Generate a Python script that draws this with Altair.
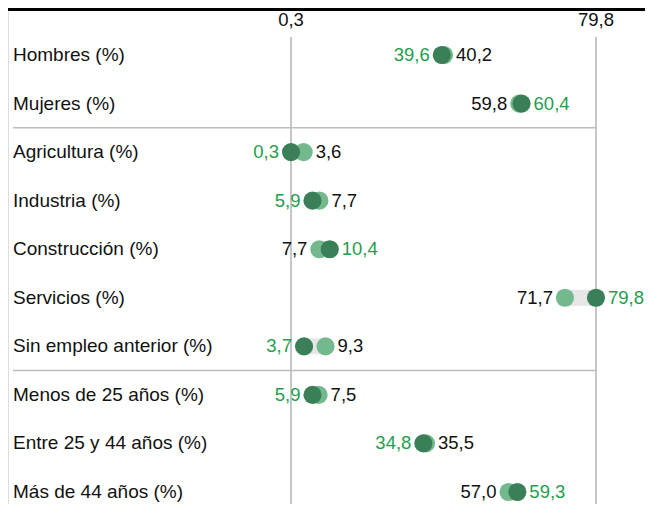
import altair as alt
import pandas as pd

categories = ["Hombres (%)", "Mujeres (%)", "Agricultura (%)", "Industria (%)",
              "Construcción (%)", "Servicios (%)", "Sin empleo anterior (%)",
              "Menos de 25 años (%)", "Entre 25 y 44 años (%)", "Más de 44 años (%)"]
dark_values = [39.6, 60.4, 0.3, 5.9, 10.4, 79.8, 3.7, 5.9, 34.8, 59.3]
light_values = [40.2, 59.8, 3.6, 7.7, 7.7, 71.7, 9.3, 7.5, 35.5, 57.0]
group_sizes = [2, 5, 3]
ref_ticks = [0.3, 79.8]
ref_labels = ["0,3", "79,8"]

DARK = "#3a7f57"
LIGHT = "#74b98e"
GREEN_TXT = "#1f9e4e"
FONT = "Liberation Sans"
FS = 18.5
FS_CAT = 19

W = 637
H = 496


def fmt(v):
    return f"{v:.1f}".replace(".", ",")


n = len(categories)
rows = pd.DataFrame({"cat": categories, "idx": list(range(n)),
                     "dark": dark_values, "light": light_values})
rows["lo"] = rows[["dark", "light"]].min(axis=1)
rows["hi"] = rows[["dark", "light"]].max(axis=1)

recs = []
for i in range(n):
    d, l = dark_values[i], light_values[i]
    recs.append({"idx": i, "series": "dark", "value": d, "label": fmt(d),
                 "side": "left" if d < l else "right", "tcolor": GREEN_TXT})
    recs.append({"idx": i, "series": "light", "value": l, "label": fmt(l),
                 "side": "left" if l < d else "right", "tcolor": "#111111"})
pts = pd.DataFrame(recs)

breaks = []
acc = 0
for g in group_sizes[:-1]:
    acc += g
    breaks.append(acc - 0.5)
seps = pd.DataFrame({"b": breaks})
ticks = pd.DataFrame({"v": ref_ticks, "t": ref_labels})

xs = alt.Scale(domain=[0.3, 79.8], range=[283, 588], zero=False, nice=False)
ys = alt.Scale(domain=[0, n - 1], range=[47, 484], zero=False, nice=False)

X = lambda f: alt.X(f, scale=xs, axis=None)
Y = lambda f: alt.Y(f, scale=ys, axis=None)

vrules = alt.Chart(ticks).mark_rule(color="#b3b3b3", strokeWidth=1.5).encode(
    x=X("v:Q"), y=alt.value(29), y2=alt.value(H))
vlabels = alt.Chart(ticks).mark_text(fontSize=FS, font=FONT, color="#111111",
                                     baseline="middle").encode(
    x=X("v:Q"), y=alt.value(12), text="t:N")
seprules = alt.Chart(seps).mark_rule(color="#bdbdbd", strokeWidth=1.5).encode(
    y=Y("b:Q"), x=alt.value(5), x2=alt.value(588))
topline = alt.Chart(ticks).mark_rule(color="#000000", strokeWidth=3).encode(
    x=alt.value(0), x2=alt.value(W), y=alt.value(1.5))

bars = alt.Chart(rows).mark_rule(color="#e6e6e6", strokeWidth=16).encode(
    x=X("lo:Q"), x2="hi:Q", y=Y("idx:Q"))
light = alt.Chart(pts).transform_filter(alt.datum.series == "light").mark_circle(
    size=330, opacity=1, color=LIGHT).encode(x=X("value:Q"), y=Y("idx:Q"))
dark = alt.Chart(pts).transform_filter(alt.datum.series == "dark").mark_circle(
    size=330, opacity=1, color=DARK).encode(x=X("value:Q"), y=Y("idx:Q"))

left_lab = alt.Chart(pts).transform_filter(alt.datum.side == "left").mark_text(
    align="right", dx=-12, fontSize=FS, font=FONT, baseline="middle").encode(
    x=X("value:Q"), y=Y("idx:Q"), text="label:N",
    color=alt.Color("tcolor:N", scale=None))
right_lab = alt.Chart(pts).transform_filter(alt.datum.side == "right").mark_text(
    align="left", dx=12, fontSize=FS, font=FONT, baseline="middle").encode(
    x=X("value:Q"), y=Y("idx:Q"), text="label:N",
    color=alt.Color("tcolor:N", scale=None))

cat_lab = alt.Chart(rows).mark_text(align="left", fontSize=FS_CAT, font=FONT,
                                    color="#111111", baseline="middle").encode(
    x=alt.value(5), y=Y("idx:Q"), text="cat:N")

chart = alt.layer(vrules, vlabels, seprules, topline, bars, light, dark,
                  left_lab, right_lab, cat_lab).properties(
    width=W, height=H, padding=0,
    autosize=alt.AutoSizeParams(type="none"),
).configure_view(stroke=None).configure(background="white")

chart.save("out.html", embed_options={"renderer": "svg", "actions": False})
